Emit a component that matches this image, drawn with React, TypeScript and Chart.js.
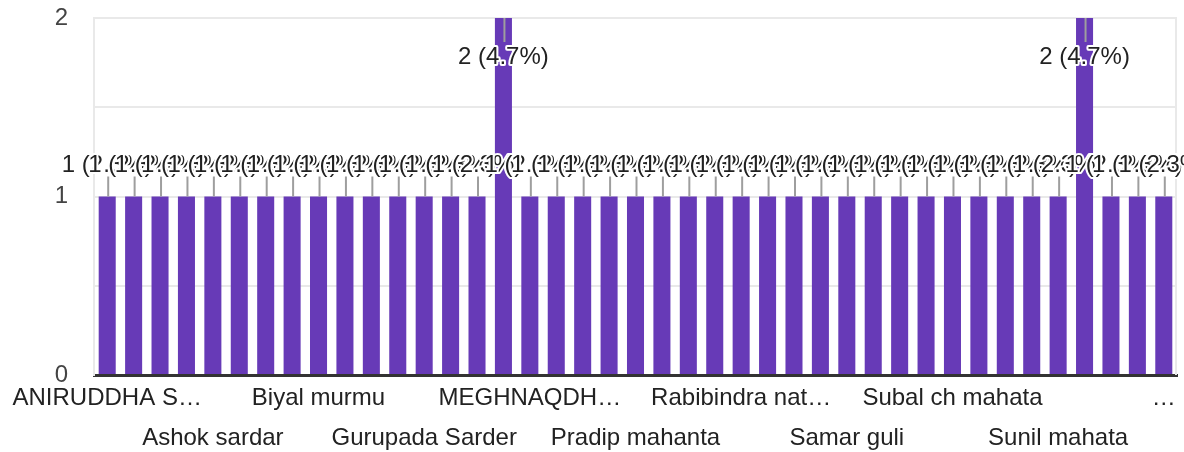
import React, { useEffect, useRef } from 'react';
import { Chart, registerables } from 'chart.js';

Chart.register(...registerables);

const categories: string[] = [
  'ANIRUDDHA SARDAR', 'Anil mahata', 'Arjun sardar', 'Arun murmu', 'Ashok sardar',
  'Asit mahata', 'Bablu sardar', 'Bikash mahato', 'Biyal murmu', 'Dilip sardar',
  'Gopal mahata', 'Gour hansda', 'Gurupada Sarder', 'Haradhan mahata', 'Kalipada murmu',
  'Kartik mahata', 'MEGHNAQDHAR MAHATA', 'Mihir mahata', 'Nirmal sardar', 'Nitai murmu',
  'Pradip mahanta', 'Prasanta sardar', 'Pulin mahata', 'Rabi murmu', 'Rabibindra nath mahata',
  'Rajesh sardar', 'Ranjit murmu', 'Sagar mahata', 'Samar guli', 'Sanjay sardar',
  'Sankar mahata', 'Shyamal murmu', 'Subal ch mahata', 'Subhas sardar', 'Sudhir mahata',
  'Sukumar murmu', 'Sunil mahata', 'Swapan sardar', 'Tapan mahata', 'Tarun murmu',
  'Uttam sardar',
];

const responses: number[] = [
  1, 1, 1, 1, 1, 1, 1, 1, 1, 1,
  1, 1, 1, 1, 1, 2, 1, 1, 1, 1,
  1, 1, 1, 1, 1, 1, 1, 1, 1, 1,
  1, 1, 1, 1, 1, 1, 1, 2, 1, 1,
  1,
];

const yTickLabels: number[] = [0, 1, 2];

const FONT = 'Arial, "Liberation Sans", sans-serif';
const LABEL_EVERY = 4;

function truncate(ctx: CanvasRenderingContext2D, text: string, maxW: number): string {
  if (ctx.measureText(text).width <= maxW) return text;
  let s = text;
  while (s.length > 0 && ctx.measureText(s + '…').width > maxW) s = s.slice(0, -1);
  return s.replace(/\s+$/, '') + '…';
}

function buildXLabels(): (string | string[])[] {
  const c = document.createElement('canvas').getContext('2d') as CanvasRenderingContext2D;
  c.font = `24px ${FONT}`;
  const n = categories.length;
  return categories.map((name, i) => {
    if (i % LABEL_EVERY !== 0) return '';
    const frac = (i + 0.5) / n;
    const approxX = 94 + frac * (1177 - 94);
    const edgeRoom = 2 * Math.min(approxX, 1184 - approxX) - 10;
    const maxW = Math.min(190, edgeRoom);
    const t = truncate(c, name, maxW);
    return (i / LABEL_EVERY) % 2 === 0 ? t : ['', t];
  });
}

const dataLabelPlugin = {
  id: 'formsDataLabels',
  beforeDatasetsDraw(chart: any) {
    const { ctx, chartArea: a } = chart;
    ctx.save();
    ctx.strokeStyle = '#e9e9e9';
    ctx.lineWidth = 2;
    ctx.beginPath();
    ctx.moveTo(a.right - 1, a.top);
    ctx.lineTo(a.right - 1, a.bottom);
    ctx.stroke();
    ctx.restore();
  },
  afterDatasetsDraw(chart: any) {
    const { ctx, chartArea: a } = chart;
    const meta = chart.getDatasetMeta(0);
    const total = responses.reduce((s, v) => s + v, 0);
    const items = meta.data.map((bar: any, i: number) => {
      const v = responses[i];
      const top = bar.y;
      const above = top - 50 >= a.top - 2;
      return { x: bar.x, top, above, text: `${v} (${((v / total) * 100).toFixed(1)}%)` };
    });
    ctx.save();
    ctx.strokeStyle = '#9e9e9e';
    ctx.lineWidth = 2;
    items.forEach((it: any) => {
      ctx.beginPath();
      ctx.moveTo(it.x + 1, it.top);
      ctx.lineTo(it.x + 1, it.above ? it.top - 20 : it.top + 24);
      ctx.stroke();
    });
    ctx.font = `24px ${FONT}`;
    ctx.textAlign = 'center';
    ctx.textBaseline = 'middle';
    ctx.lineJoin = 'round';
    items.forEach((it: any) => {
      const y = it.above ? it.top - 31 : it.top + 39;
      ctx.lineWidth = 4;
      ctx.strokeStyle = '#ffffff';
      ctx.strokeText(it.text, it.x, y);
      ctx.fillStyle = '#222222';
      ctx.fillText(it.text, it.x, y);
    });
    ctx.restore();
  },
};

export default function App() {
  const ref = useRef<HTMLCanvasElement | null>(null);

  useEffect(() => {
    if (!ref.current) return;
    const xLabels = buildXLabels();
    const chart = new Chart(ref.current, {
      type: 'bar',
      data: {
        labels: categories,
        datasets: [
          {
            data: responses,
            backgroundColor: '#673ab7',
            borderWidth: 0,
            categoryPercentage: 1,
            barPercentage: 0.645,
          },
        ],
      },
      plugins: [dataLabelPlugin],
      options: {
        animation: false,
        responsive: false,
        devicePixelRatio: 1,
        layout: { padding: { top: 18, right: 7, left: 0, bottom: 0 } },
        plugins: {
          legend: { display: false },
          tooltip: { enabled: false },
        },
        scales: {
          x: {
            grid: { display: false, drawTicks: false },
            border: { display: true, color: '#333333', width: 3 },
            ticks: {
              autoSkip: false,
              maxRotation: 0,
              minRotation: 0,
              padding: 3,
              color: '#222222',
              font: { family: FONT, size: 24, lineHeight: '40px' } as any,
              callback: (_v: any, i: number) => xLabels[i],
            },
            afterFit: (s: any) => {
              s.height = 77;
              s.paddingLeft = 0;
              s.paddingRight = 0;
            },
          },
          y: {
            min: 0,
            max: 2,
            grid: { color: '#e9e9e9', lineWidth: 2, drawTicks: false },
            border: { display: true, color: '#e9e9e9', width: 2 },
            ticks: {
              stepSize: 0.5,
              padding: 26,
              color: '#444444',
              font: { family: FONT, size: 24 },
              callback: (v: any) => (yTickLabels.includes(Number(v)) ? String(v) : ''),
            },
            afterFit: (s: any) => {
              s.width = 94;
              s.paddingTop = 0;
              s.paddingBottom = 0;
            },
          },
        },
      },
    });
    return () => chart.destroy();
  }, []);

  return (
    <div style={{ position: 'fixed', left: 0, top: 0, width: 1184, height: 452, background: '#fff' }}>
      <canvas ref={ref} width={1184} height={452} style={{ width: 1184, height: 452, display: 'block' }} />
    </div>
  );
}
